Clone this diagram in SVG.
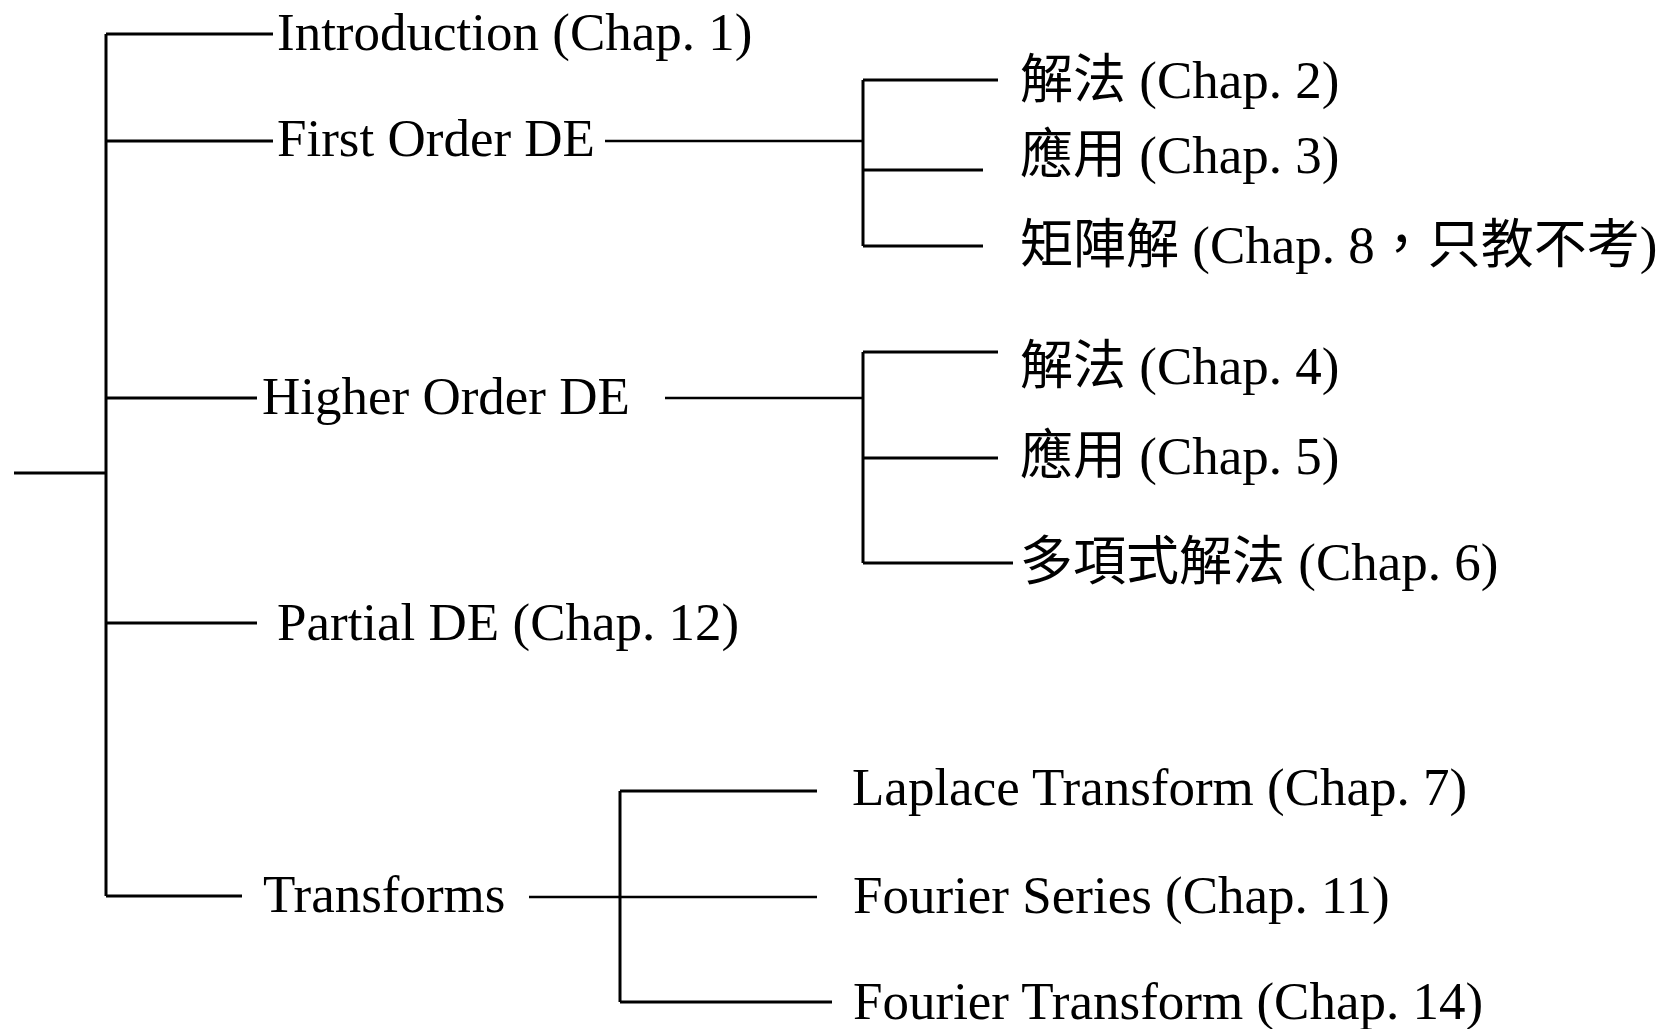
<svg xmlns="http://www.w3.org/2000/svg" width="1666" height="1029" viewBox="0 0 1666 1029">
  <style>
    .t { font-family: "Liberation Serif", "Noto Sans CJK TC", serif; font-size: 53px; fill: #000; }
    .c { fill: none; stroke: #000; stroke-width: 3; stroke-linecap: butt; }
    .c2 { fill: none; stroke: #000; stroke-width: 2.5; }
  </style>
  <rect x="0" y="0" width="1666" height="1029" fill="#fff"/>
  <g id="connectors">
    <path class="c" d="M14 473 H106"/>
    <path class="c" d="M106 34 V896"/>
    <path class="c" d="M106 34 H273"/>
    <path class="c" d="M106 141 H273"/>
    <path class="c" d="M106 398 H257"/>
    <path class="c" d="M106 623 H257"/>
    <path class="c" d="M106 896 H242"/>
    <path class="c2" d="M605 141 H863"/>
    <path class="c" d="M863 80 V246"/>
    <path class="c" d="M863 80 H998"/>
    <path class="c" d="M863 170 H983"/>
    <path class="c" d="M863 246 H983"/>
    <path class="c2" d="M665 398 H863"/>
    <path class="c" d="M863 352 V563"/>
    <path class="c" d="M863 352 H998"/>
    <path class="c" d="M863 458 H998"/>
    <path class="c" d="M863 563 H1013"/>
    <path class="c2" d="M529 897 H817"/>
    <path class="c" d="M620 791 V1002"/>
    <path class="c" d="M620 791 H817"/>
    <path class="c" d="M620 1002 H832"/>
  </g>
  <g id="intro"><text class="t" x="277" y="50">Introduction (Chap. 1)</text></g>
  <g id="first-order"><text class="t" x="277" y="156">First Order DE</text></g>
  <g id="higher-order"><text class="t" x="262" y="414">Higher Order DE</text></g>
  <g id="partial"><text class="t" x="277" y="640">Partial DE (Chap. 12)</text></g>
  <g id="transforms"><text class="t" x="263" y="912">Transforms</text></g>
  <g id="fo-solve"><text class="t" x="1020" y="98">解法 (Chap. 2)</text></g>
  <g id="fo-apply"><text class="t" x="1020" y="173">應用 (Chap. 3)</text></g>
  <g id="fo-matrix"><text class="t" x="1020" y="263">矩陣解 (Chap. 8，只教不考)</text></g>
  <g id="ho-solve"><text class="t" x="1020" y="384">解法 (Chap. 4)</text></g>
  <g id="ho-apply"><text class="t" x="1020" y="474">應用 (Chap. 5)</text></g>
  <g id="ho-poly"><text class="t" x="1020" y="580">多項式解法 (Chap. 6)</text></g>
  <g id="laplace"><text class="t" x="852" y="805">Laplace Transform (Chap. 7)</text></g>
  <g id="fourier-series"><text class="t" x="853" y="913">Fourier Series (Chap. 11)</text></g>
  <g id="fourier-transform"><text class="t" x="853" y="1019">Fourier Transform (Chap. 14)</text></g>
</svg>
